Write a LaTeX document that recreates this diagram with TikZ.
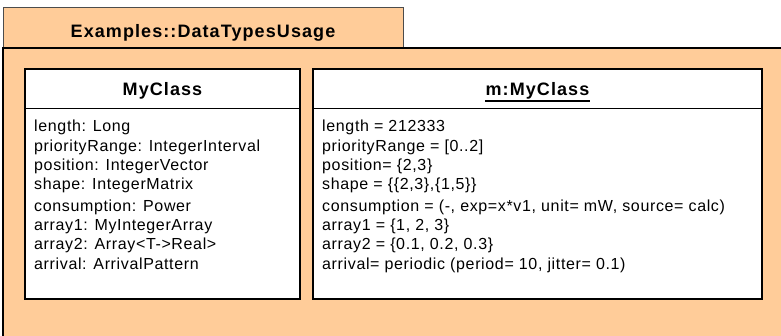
\documentclass[tikz,border=0pt]{standalone}
\usepackage{fontspec}
\setmainfont{Liberation Sans}[LetterSpace=4]
\newfontfamily\titulofont{Liberation Sans}[LetterSpace=6]
\usetikzlibrary{positioning}
\definecolor{paquete}{RGB}{255,204,153}

\begin{document}
\begin{tikzpicture}[x=1pt,y=-1pt,
  caja/.style={draw=black,line width=1.5pt,fill=white,minimum height=230pt},
  titulo/.style={font=\titulofont\bfseries\fontsize{18}{22}\selectfont,inner sep=0pt,anchor=base},
  atributo/.style={font=\fontsize{16}{19}\selectfont,inner sep=0pt,anchor=base west}]

% Marco del dibujo
\useasboundingbox (0,0) rectangle (781,335);
\clip (0,0) rectangle (781,335);

% Dibuja el paquete
\filldraw[fill=paquete,draw=black!70,line width=1pt] (3,7) rectangle (403,48);
\fill[paquete] (3,48) rectangle (790,345);
\draw[line width=2pt] (2,48) -- (790,48);
\draw[line width=1.5pt] (3,48) -- (3,345);
\node[titulo] (paq) at (203,37) {Examples::DataTypesUsage};

% Clase MyClass
\node[caja,minimum width=275pt] (clase) at (162.5,184) {};
\draw[line width=1pt] ([yshift=-40pt]clase.north west) -- ([yshift=-40pt]clase.north east);
\node[titulo] (nomClase) at (clase.north |- 0,95) {MyClass};

% Atributos de la clase
\foreach \y/\txt [count=\i] in {131/{length: Long}, 151/{priorityRange: IntegerInterval},
    170/{position: IntegerVector}, 189/{shape: IntegerMatrix},
    211/{consumption: Power}, 230/{array1: MyIntegerArray},
    249/{array2: Array<T->Real>}, 269/{arrival: ArrivalPattern}} {
  \node[atributo] (izq\i) at (34,\y) {\txt};
}

% Instancia m:MyClass
\node[caja,minimum width=449pt] (inst) at (537.5,184) {};
\draw[line width=1pt] ([yshift=-40pt]inst.north west) -- ([yshift=-40pt]inst.north east);
\node[titulo] (nomInst) at (inst.north |- 0,95) {m:MyClass};
\draw[line width=1.2pt] ([yshift=-2pt]nomInst.south west) -- ([yshift=-2pt]nomInst.south east);

% Valores de la instancia
\foreach \y/\txt [count=\i] in {131/{length = 212333}, 151/{priorityRange = [0..2]},
    170/{position= \{2,3\}}, 189/{shape = \{\{2,3\},\{1,5\}\}},
    211/{consumption = (-, exp=x*v1, unit= mW, source= calc)}, 230/{array1 = \{1, 2, 3\}},
    249/{array2 = \{0.1, 0.2, 0.3\}}, 269/{arrival= periodic (period= 10, jitter= 0.1)}} {
  \node[atributo] (der\i) at (322,\y) {\txt};
}

\end{tikzpicture}
\end{document}
